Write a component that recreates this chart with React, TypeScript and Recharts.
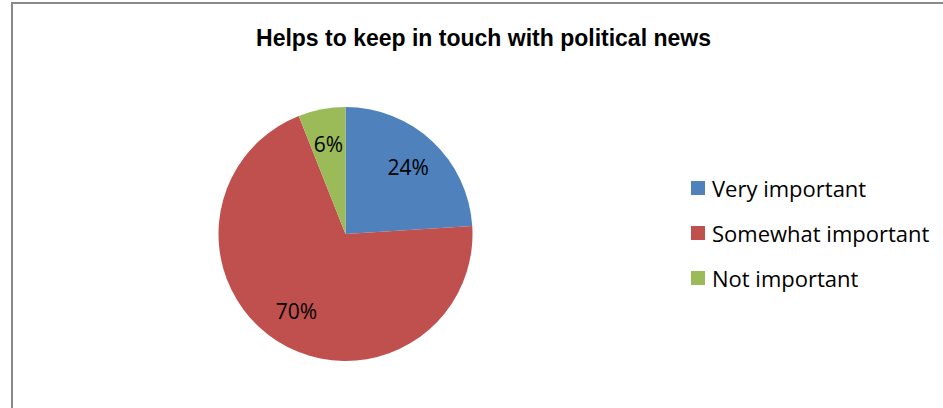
import React from 'react';
import { PieChart, Pie, Cell, Legend } from 'recharts';

const title = 'Helps to keep in touch with political news';
const categories = ['Very important', 'Somewhat important', 'Not important'];
const values = [24, 70, 6];
const colors = ['#4F81BD', '#C0504D', '#9BBB59'];

const data = categories.map((name, i) => ({ name, value: values[i] }));

const RAD = Math.PI / 180;

const renderLabel = (props: any) => {
  const { cx, cy, midAngle, outerRadius, value } = props;
  const r = outerRadius * 0.72;
  const x = cx + r * Math.cos(-midAngle * RAD);
  const y = cy + r * Math.sin(-midAngle * RAD);
  return (
    <text
      x={x}
      y={y}
      fill="#000"
      textAnchor="middle"
      dominantBaseline="central"
      style={{ fontFamily: 'Open Sans, sans-serif', fontSize: 21 }}
    >
      {`${value}%`}
    </text>
  );
};

const renderLegend = () => {
  return (
    <div style={{ fontFamily: 'Open Sans, sans-serif', fontSize: 22, color: '#000' }}>
      {categories.map((name, i) => (
        <div
          key={name}
          style={{ display: 'flex', alignItems: 'center', height: 45, whiteSpace: 'nowrap' }}
        >
          <span
            style={{
              display: 'inline-block',
              width: 14,
              height: 14,
              background: colors[i],
              marginRight: 7,
            }}
          />
          <span>{name}</span>
        </div>
      ))}
    </div>
  );
};

export default function App() {
  return (
    <div
      style={{
        position: 'absolute',
        left: 0,
        top: 0,
        width: 943,
        height: 408,
        overflow: 'hidden',
        background: '#fff',
      }}
    >
      <div
        style={{
          position: 'absolute',
          left: 11,
          top: 2,
          width: 960,
          height: 430,
          border: '2px solid #8a8a8a',
          boxSizing: 'border-box',
        }}
      />
      <div
        style={{
          position: 'absolute',
          left: 0,
          top: 25,
          width: 967,
          textAlign: 'center',
          fontFamily: 'Liberation Sans, Arial, sans-serif',
          fontWeight: 'bold',
          fontSize: 23,
          color: '#000',
        }}
      >
        {title}
      </div>
      <div style={{ position: 'absolute', left: 0, top: 0 }}>
        <PieChart width={943} height={408} margin={{ top: 0, right: 0, bottom: 0, left: 0 }}>
          <Pie
            data={data}
            dataKey="value"
            nameKey="name"
            cx={345.5}
            cy={234}
            outerRadius={127}
            startAngle={90}
            endAngle={-270}
            stroke="none"
            label={renderLabel}
            labelLine={false}
            isAnimationActive={false}
          >
            {data.map((d, i) => (
              <Cell key={d.name} fill={colors[i]} />
            ))}
          </Pie>
          <Legend
            layout="vertical"
            align="right"
            verticalAlign="middle"
            content={renderLegend}
            wrapperStyle={{ left: 691, top: 165, width: 250, right: 'auto', bottom: 'auto' }}
          />
        </PieChart>
      </div>
    </div>
  );
}
